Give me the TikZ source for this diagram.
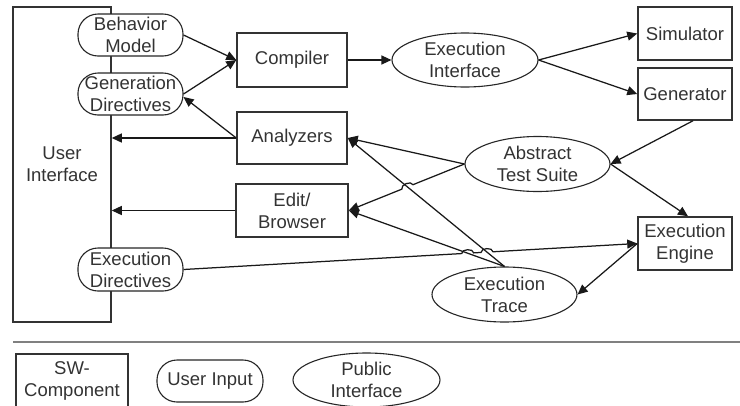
\documentclass[tikz,border=0pt]{standalone}
\usepackage{fontspec}
\setmainfont{Liberation Sans}
\usetikzlibrary{shapes.geometric,arrows.meta,calc,intersections}
\begin{document}
\begin{tikzpicture}[x=1pt,y=-1pt,
  every node/.style={font=\fontsize{18.5}{22}\selectfont, text=black!80, align=center, inner sep=0pt},
  swbox/.style={draw=black!80, line width=1.5pt, rectangle},
  userin/.style={draw=black!85, line width=1.1pt, rectangle, rounded corners=20pt},
  pubif/.style={draw=black!85, line width=1.1pt, ellipse},
  arr/.style={draw=black!90, line width=1.25pt, -{Triangle[length=10pt,width=9pt]}},
  sep/.style={draw=black!50, line width=2.4pt}]
\useasboundingbox (0,0) rectangle (740,405);

% software components
\node[swbox, minimum width=98pt, minimum height=315pt] (ui) at (62,164.5) {User\\Interface};
\node[swbox, minimum width=110pt, minimum height=54pt] (comp) at (292,60) {Compiler};
\node[swbox, minimum width=110pt, minimum height=52pt] (an) at (292,138) {Analyzers};
\node[swbox, minimum width=112pt, minimum height=53pt] (eb) at (292,210.5) {Edit/\\Browser};
\node[swbox, minimum width=94pt, minimum height=53pt] (sim) at (685,33.5) {Simulator};
\node[swbox, minimum width=94pt, minimum height=52pt] (gen) at (685,94) {Generator};
\node[swbox, minimum width=94pt, minimum height=53pt] (ee) at (685,243.5) {Execution\\Engine};

% user inputs
\node[userin, fill=white, minimum width=105pt, minimum height=42pt] (bm) at (130.5,35) {Behavior\\Model};
\node[userin, fill=white, minimum width=105pt, minimum height=42pt] (gd) at (130.5,94) {Generation\\Directives};
\node[userin, fill=white, minimum width=105pt, minimum height=43pt] (xd) at (130.5,269.5) {Execution\\Directives};

% public interfaces
\node[pubif, minimum width=146pt, minimum height=54pt] (ei) at (465,60) {};
\node (eit) at (ei) {Execution\\Interface};
\node[pubif, minimum width=145pt, minimum height=55pt] (ats) at (537.5,164) {};
\node (atst) at (ats) {Abstract\\Test Suite};
\node[pubif, minimum width=145pt, minimum height=55pt] (et) at (504.5,294.5) {};
\node (ett) at (et) {Execution\\Trace};

% connectors
\draw[arr] (bm.east) -- (comp.west);
\draw[arr] (gd.east) -- (comp.west);
\draw[arr] (an.west) -- ([yshift=-3pt]gd.east);
\draw[arr] (an.west) -- (an.west -| ui.east);
\draw[arr] (comp.east) -- (ei.west);
\draw[arr] (ei.east) -- (sim.west);
\draw[arr] (ei.east) -- (gen.west);
\draw[arr] ([xshift=8pt]gen.south) -- (ats.east);
\draw[arr] (ats.east) -- ([xshift=3pt]ee.north);
\draw[arr] (ats.west) -- (an.east);
\draw[arr] (et.north) -- (an.east);
\draw[arr] (et.north) -- (eb.east);
\draw[arr] (eb.west) -- (eb.west -| ui.east);
\draw[arr] (ee.west) -- (et.east);

\path[name path=pA] (et.north) -- (an.east);
\path[name path=pB] (et.north) -- (eb.east);
\path[name path=pC] (ats.west) -- (eb.east);
\path[name path=pD] (xd.east) -- (ee.west);
\path[name intersections={of=pC and pA, by=hA}];
\path[name intersections={of=pD and pB, by=hB}];
\path[name intersections={of=pD and pA, by=hC}];

\draw[arr] (ats.west) -- ($(hA)!6pt!(ats.west)$) to[bend right=90] ($(hA)!6pt!(eb.east)$) -- (eb.east);
\draw[arr] (xd.east) -- ($(hB)!6pt!(xd.east)$) to[bend left=90] ($(hB)!6pt!(ee.west)$)
  -- ($(hC)!6pt!(xd.east)$) to[bend left=90] ($(hC)!6pt!(ee.west)$) -- (ee.west);

% legend
\coordinate (sepl) at (13,342);
\coordinate (sepr) at (740,342);
\draw[sep] (sepl) -- (sepr);
\node[swbox, minimum width=112pt, minimum height=54pt] (lsw) at (72,381) {SW-\\Component};
\node[userin, minimum width=106pt, minimum height=42pt] (lui) at (210,381) {User Input};
\node[pubif, minimum width=147pt, minimum height=54pt] (lpi) at (366.5,380) {};
\node (lpit) at (lpi) {Public\\Interface};
\end{tikzpicture}
\end{document}
